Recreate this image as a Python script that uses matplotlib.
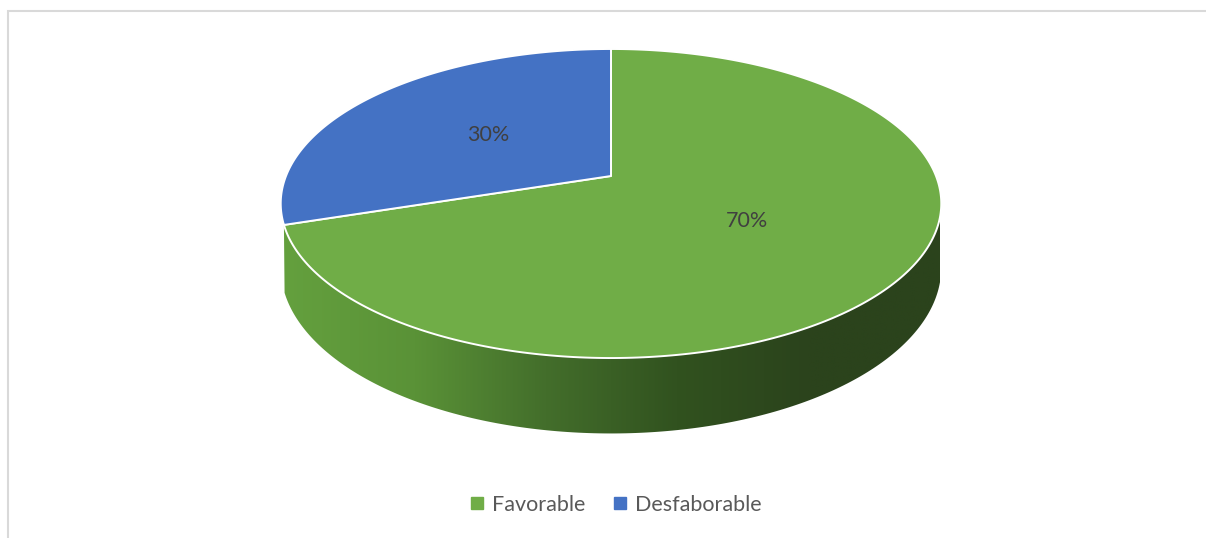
import numpy as np
import matplotlib.pyplot as plt
from matplotlib.path import Path
from matplotlib.patches import PathPatch, Rectangle
from matplotlib.lines import Line2D
from matplotlib.colors import LinearSegmentedColormap

# datos
categorias = ['Favorable', 'Desfaborable']
valores = [70, 30]
colores = ['#70ad47', '#4472c4']
# gradiente de la pared lateral (claro -> oscuro)
colores_lado = [['#64a03e', '#5a9237', '#436e2b', '#31521f', '#2b431c', '#2b431c'],
                ['#3d66b0', '#355a9c', '#2b4a82', '#223b68', '#1e3459', '#1e3459']]

W, H = 1206, 538
plt.rcParams['font.family'] = ['Lato', 'DejaVu Sans']
fig = plt.figure(figsize=(W / 100, H / 100), dpi=100)
ax = fig.add_axes([0, 0, 1, 1])

# pie normal, luego se proyecta en perspectiva
wedges, _ = ax.pie(valores, colors=colores, startangle=90, counterclock=False)

# parametros de la perspectiva (en pixeles)
cx, cy = 611, 176
R = 325
k = 0.178
b = 118.3
depth = 62


def proj(u, v, drop=0.0):
    d = 1 + k * v
    return cx + R * u / d, (cy - b * v + drop) / d


tops = []
for w, col, lcols in zip(wedges, colores, colores_lado):
    t1, t2 = w.theta1, w.theta2
    # pared lateral visible (parte delantera)
    a1, a2 = max(t1, -162), min(t2, -10)
    if a2 > a1:
        th = np.radians(np.linspace(a1, a2, 200))
        xt, yt = proj(np.cos(th), np.sin(th))
        xb, yb = proj(np.cos(th), np.sin(th), depth)
        verts = np.column_stack([np.r_[xt, xb[::-1]], np.r_[yt, yb[::-1]]])
        clip = PathPatch(Path(verts, closed=True), fc='none', ec='none')
        ax.add_patch(clip)
        cmap = LinearSegmentedColormap.from_list('lado', lcols)
        grad = np.linspace(0, 1, 256).reshape(1, -1)
        im = ax.imshow(grad, cmap=cmap, extent=[283, 940, 450, 150],
                       aspect='auto', interpolation='bilinear', zorder=1)
        im.set_clip_path(clip)
    # cara superior
    th = np.radians(np.linspace(t1, t2, 300))
    xs, ys = proj(w.r * np.cos(th), w.r * np.sin(th))
    x0, y0 = proj(*w.center)
    verts = np.column_stack([np.r_[x0, xs, x0], np.r_[y0, ys, y0]])
    tops.append((verts, col, (t1 + t2) / 2))
    w.remove()

for verts, col, mid in tops:
    ax.add_patch(PathPatch(Path(verts, closed=True), fc=col, ec='white',
                           lw=1.4, joinstyle='round', zorder=3))

# etiquetas de porcentaje
total = sum(valores)
for (verts, col, mid), v in zip(tops, valores):
    m = np.radians(mid)
    x, y = proj(0.49 * np.cos(m), 0.49 * np.sin(m))
    ax.text(x, y, f'{v / total:.0%}', ha='center', va='center',
            fontsize=15.5, color='#404040', zorder=4)

ax.set_xlim(0, W)
ax.set_ylim(H, 0)
ax.set_aspect('auto')
ax.axis('off')

# leyenda
handles = [Line2D([], [], marker='s', ls='none', markersize=9,
                  markerfacecolor=c, markeredgecolor=c) for c in colores]
fig.legend(handles, categorias, loc='center', bbox_to_anchor=(615 / W, 1 - 505 / H),
           ncol=2, frameon=False, fontsize=15.5, labelcolor='#595959',
           handlelength=0.8, handletextpad=0.3, columnspacing=1.2)

# marco del area del grafico
fig.patches.append(Rectangle((8 / W, -0.1), 2, 1 - 10.5 / H + 0.1,
                             transform=fig.transFigure, fill=False,
                             ec='#d9d9d9', lw=1.5))

plt.savefig('out.png', dpi=100)
